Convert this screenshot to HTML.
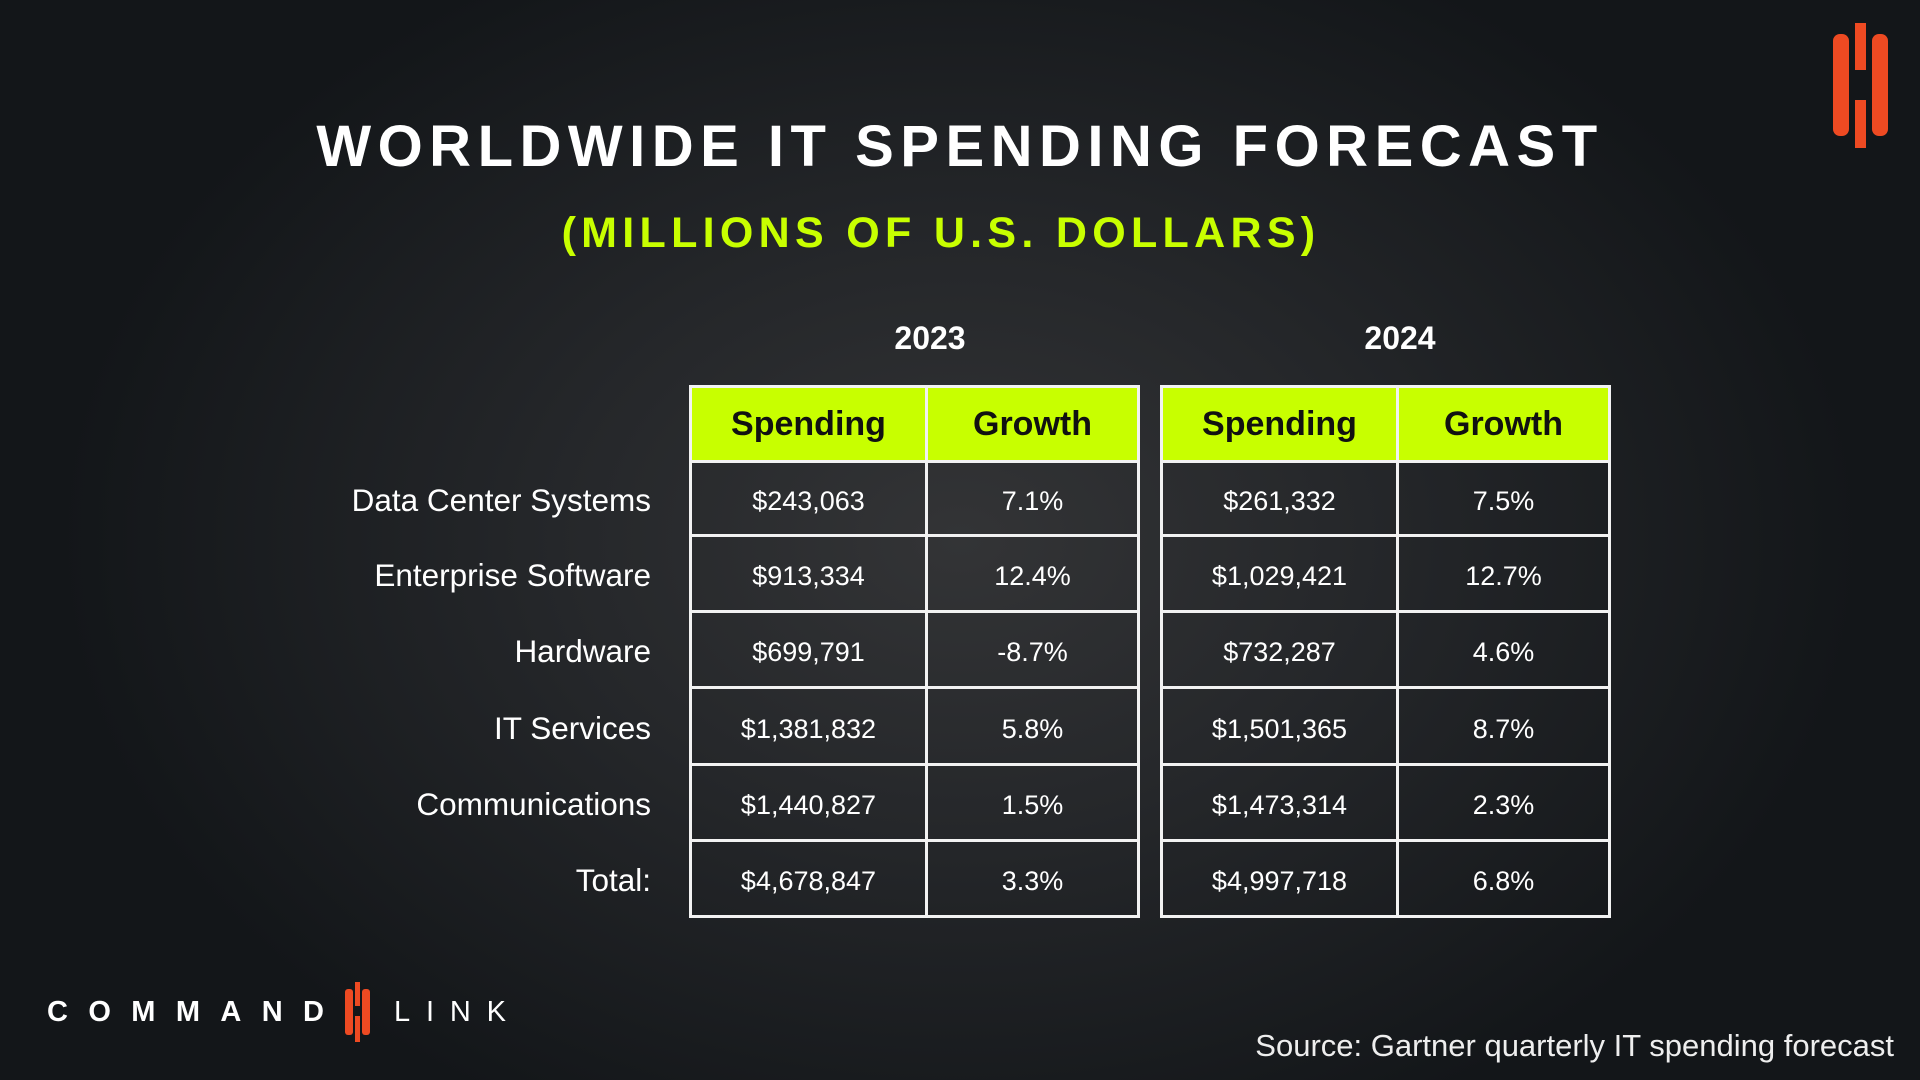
<!DOCTYPE html>
<html><head><meta charset="utf-8"><style>
html,body{margin:0;padding:0;}
body{width:1920px;height:1080px;overflow:hidden;position:relative;font-family:"Liberation Sans","DejaVu Sans",sans-serif;
background:radial-gradient(ellipse 900px 650px at 960px 540px,#333436 0%,#25272a 45%,#131619 100%);color:#fff;}
.abs{position:absolute;}
#title{left:0;width:1920px;top:110px;text-align:center;font-weight:bold;font-size:58px;letter-spacing:6.5px;line-height:74px;}
#sub{left:0;width:1882px;top:206px;text-align:center;font-weight:bold;font-size:43px;letter-spacing:5.3px;color:#c8ff00;line-height:54px;}
.year{font-weight:bold;font-size:32px;text-align:center;top:318px;line-height:40px;}
table{position:absolute;border-collapse:collapse;}
td,th{border:3px solid #f2f2f2;text-align:center;padding:0;font-size:27px;font-weight:normal;color:#fff;}
th{background:#c8ff00;color:#111;font-weight:bold;font-size:34px;height:72px;}
td{height:70px;padding-top:6px;box-sizing:border-box;}
.lbl{right:1269px;font-size:31.5px;text-align:right;line-height:40px;}
#src{right:26px;top:1028px;font-size:31px;color:#eee;}
</style></head><body>
<div id="title" class="abs">WORLDWIDE IT SPENDING FORECAST</div>
<div id="sub" class="abs">(MILLIONS OF U.S. DOLLARS)</div>
<div class="abs year" style="left:830px;width:200px">2023</div>
<div class="abs year" style="left:1300px;width:200px">2024</div>
<div id="labels"></div>
<div id="tables"></div>
<div id="src" class="abs">Source: Gartner quarterly IT spending forecast</div>

<svg class="abs" style="left:0;top:0" width="1920" height="1080">
 <g fill="#ee4a22">
  <rect x="1833" y="34" width="16" height="102" rx="7"/>
  <rect x="1855" y="23" width="11" height="47"/>
  <rect x="1855" y="100" width="11" height="48"/>
  <rect x="1872" y="34" width="16" height="102" rx="7"/>
 </g>
 <text x="47" y="1021" fill="#fff" font-family="Liberation Sans, sans-serif" font-size="29" font-weight="bold" textLength="277" lengthAdjust="spacing">COMMAND</text>
 <g fill="#ee4a22">
  <rect x="345" y="989" width="8" height="46" rx="3"/>
  <rect x="355" y="982" width="5" height="24"/>
  <rect x="355" y="1016" width="5" height="26"/>
  <rect x="362" y="989" width="8" height="46" rx="3"/>
 </g>
 <text x="394" y="1021" fill="#fff" font-family="Liberation Sans, sans-serif" font-size="29" textLength="112" lengthAdjust="spacing">LINK</text>
</svg>

<script>
const categories=["Data Center Systems","Enterprise Software","Hardware","IT Services","Communications","Total:"];
const spend2023=["$243,063","$913,334","$699,791","$1,381,832","$1,440,827","$4,678,847"];
const growth2023=["7.1%","12.4%","-8.7%","5.8%","1.5%","3.3%"];
const spend2024=["$261,332","$1,029,421","$732,287","$1,501,365","$1,473,314","$4,997,718"];
const growth2024=["7.5%","12.7%","4.6%","8.7%","2.3%","6.8%"];
const rowTops=[462,536,612,688,765,841];
const rowH=[74,76,76,77,76,76];
const lab=document.getElementById('labels');
categories.forEach((c,i)=>{
 const d=document.createElement('div');
 d.className='abs lbl';
 d.style.top=(rowTops[i]+rowH[i]/2-19)+'px';
 d.textContent=c;
 
 
 lab.appendChild(d);
});
function mk(left,w1,w2,sp,gr,year){
 const t=document.createElement('table');
 t.style.left=left+'px';t.style.top='385px';
 
 
 let h='<tr><th style="width:'+w1+'px">Spending</th><th style="width:'+w2+'px">Growth</th></tr>';
 sp.forEach((v,i)=>{h+='<tr style="height:'+rowH[i]+'px"><td>'+v+'</td><td>'+gr[i]+'</td></tr>';});
 t.innerHTML=h;
 document.getElementById('tables').appendChild(t);
}
mk(689,233,209,spend2023,growth2023,'2023');
mk(1160,233,209,spend2024,growth2024,'2024');
</script>
</body></html>
